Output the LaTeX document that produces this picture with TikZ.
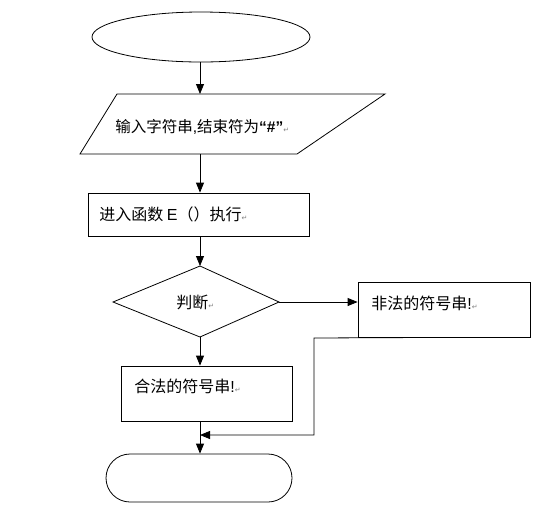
\documentclass[tikz,border=0pt]{standalone}
\usepackage{fontspec}
\newfontfamily\cjk{Noto Sans CJK SC}
\newfontfamily\dv{DejaVu Sans}
\newfontfamily\lat{Liberation Sans}
\usetikzlibrary{arrows.meta,shapes.geometric,shapes.misc}
\newcommand{\pmark}{{\dv\fontsize{7}{8}\selectfont\textcolor{gray}{↵}}}
\begin{document}
\begin{tikzpicture}[x=1pt,y=-1pt,line width=0.8pt,
  box/.style={draw,rectangle,inner sep=0pt},
  txt/.style={anchor=west,inner sep=0pt,font=\cjk\fontsize{16}{19}\selectfont},
  arr/.style={-{Triangle[length=10pt,width=8pt]}}]
\useasboundingbox (0,0) rectangle (553,515);
% start
\node[draw,ellipse,minimum width=218pt,minimum height=50pt,inner sep=0pt] (start) at (201,37) {};
% input parallelogram
\draw (117,94) -- (385,94) -- (297,154) -- (80,154) -- cycle;
\coordinate (inTop) at (200,94);
\coordinate (inBot) at (200,154);
\node[txt,font=\cjk\fontsize{15.5}{18}\selectfont] (t1) at (115,127) {输入字符串{\lat,}结束符为{\lat\bfseries “\#”}\pmark};
% exec box
\node[box,minimum width=221pt,minimum height=43pt] (exec) at (198.5,214.5) {};
\node[txt] (t2) at (99,214) {进入函数 {\lat E}（）执行\pmark};
% diamond
\draw (200,266) -- (279,302) -- (200,337) -- (113,302) -- cycle;
\coordinate (dTop) at (200,266);
\coordinate (dRight) at (279,302);
\coordinate (dBot) at (200,337);
\node[txt] (t3) at (176,302) {判断\pmark};
% illegal box
\node[box,minimum width=172pt,minimum height=55pt] (bad) at (444,309.5) {};
\node[txt] (t4) at (371,303) {非法的符号串{\lat !}\pmark};
% legal box
\node[box,minimum width=171pt,minimum height=55pt] (good) at (206.5,393.5) {};
\node[txt] (t5) at (134,386) {合法的符号串{\lat !}\pmark};
% end terminal
\node[draw,rounded rectangle,minimum width=186pt,minimum height=48pt,inner sep=0pt] (stop) at (199,478) {};
% connectors
\draw[arr] (start.south -| inTop) -- (inTop);
\draw[arr] (inBot) -- (exec.north -| inBot);
\draw[arr] (exec.south -| dTop) -- (dTop);
\draw[arr] (dRight) -- (bad.west |- dRight);
\draw[arr] (dBot) -- (good.north -| dBot);
\draw[arr] (good.south -| dBot) -- (stop.north -| dBot);
\coordinate (c1) at (314,338);
\coordinate (join) at (200,435);
\draw[arr] (bad.south) -- (c1) |- (join);
\end{tikzpicture}
\end{document}
